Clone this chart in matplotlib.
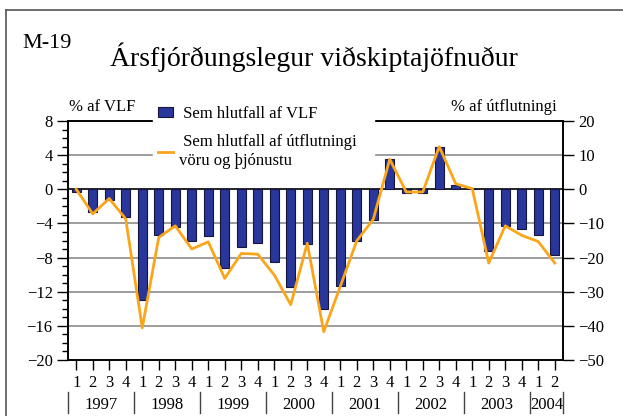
import numpy as np
import matplotlib
matplotlib.use("Agg")
import matplotlib.pyplot as plt
from matplotlib.lines import Line2D
from matplotlib.patches import Patch
import matplotlib.transforms as mtransforms

plt.rcParams['font.family'] = ['Liberation Serif', 'DejaVu Serif']

# Data: quarterly current account balance, 1997Q1 - 2004Q2
years = ["1997", "1998", "1999", "2000", "2001", "2002", "2003", "2004"]
quarters = ["1", "2", "3", "4"] * 7 + ["1", "2"]

pct_gdp = [-0.3, -2.7, -1.2, -3.3,
           -13.0, -5.3, -4.4, -6.0,
           -5.45, -9.2, -6.8, -6.3,
           -8.5, -11.4, -6.4, -14.0,
           -11.3, -6.1, -3.6, 3.6,
           -0.4, -0.4, 5.0, 0.5,
           0.0, -7.2, -4.3, -4.6,
           -5.4, -7.7]

pct_exports = [0.0, -7.2, -2.7, -8.7,
               -40.6, -14.1, -10.7, -17.5,
               -15.4, -26.1, -18.8, -19.0,
               -25.1, -33.8, -15.8, -41.7,
               -28.5, -15.1, -8.8, 8.8,
               -0.8, -0.8, 12.5, 1.6,
               0.2, -21.6, -10.7, -13.5,
               -15.3, -21.6]

bar_color = '#29369A'
line_color = '#FBA51A'
grid_color = '#8C8C8C'

fig = plt.figure(figsize=(6.23, 4.16), dpi=100)
ax = fig.add_axes([68 / 623, 56 / 416, 495 / 623, 239 / 416])
ax2 = ax.twinx()

x = np.arange(len(pct_gdp))

# gridlines on left scale
for v in [4, -4, -8, -12, -16]:
    ax.axhline(v, color=grid_color, lw=1.2, zorder=1)
ax.axhline(0, color='black', lw=1.2, zorder=1)

ax.bar(x, pct_gdp, width=0.55, color=bar_color, edgecolor='#15153f',
       linewidth=0.8, zorder=2)

ax.set_xlim(-0.5, len(pct_gdp) - 0.5)
ax.set_ylim(-20, 8)
ax.set_yticks(np.arange(-20, 9, 4))
ax.set_yticks(np.arange(-20, 9, 1), minor=True)
ax.tick_params(axis='y', which='major', length=8, width=1, labelsize=12, pad=3)
ax.tick_params(axis='y', which='minor', length=4, width=1)
ax.set_xticks(x)
ax.set_xticklabels(quarters)
ax.tick_params(axis='x', length=7, width=1, labelsize=12, pad=4)

ax2.plot(x, pct_exports, color=line_color, lw=2, zorder=3)
ax2.set_ylim(-50, 20)
ax2.set_yticks(np.arange(-50, 21, 10))
ax2.tick_params(axis='y', length=8, width=1, labelsize=12, pad=3)

for a in (ax, ax2):
    for s in a.spines.values():
        s.set_color('black')
        s.set_linewidth(1.2)

# year labels and separators under the quarter labels
trans = mtransforms.blended_transform_factory(ax.transData, ax.transAxes)
for i, yr in enumerate(years):
    start = i * 4
    end = min(start + 4, len(pct_gdp))
    ax.text((start + end - 1) / 2, -0.188, yr, transform=trans,
            ha='center', va='center', fontsize=12)
bounds = [-0.5 + 4 * k for k in range(8)] + [len(pct_gdp) - 0.5]
for b in bounds:
    ax.add_line(Line2D([b, b], [-0.134, -0.222], transform=trans,
                       color='#444444', lw=1, clip_on=False))

# axis unit labels
fig.text(102 / 623, 1 - 107 / 416, '% af VLF', ha='center', va='center',
         fontsize=12)
fig.text(557 / 623, 1 - 107 / 416, '% af útflutningi', ha='right',
         va='center', fontsize=12)

# legend
handles = [Patch(facecolor=bar_color, edgecolor='#15153f', lw=0.8),
           Line2D([], [], color=line_color, lw=2)]
labels = [' Sem hlutfall af VLF', ' Sem hlutfall af útflutningi   \nvöru og þjónustu']
leg = ax2.legend(handles, labels, loc='upper left',
                 bbox_to_anchor=(153 / 623, 1 - 101 / 416),
                 bbox_transform=fig.transFigure, fontsize=12,
                 frameon=True, fancybox=False, borderpad=0.3,
                 handlelength=0.9, handleheight=0.6, handletextpad=0.35,
                 labelspacing=0.75, borderaxespad=0)
leg.get_frame().set_facecolor('white')
leg.get_frame().set_edgecolor('white')
leg.get_frame().set_alpha(1)

# titles
fig.text(22 / 623, 1 - 43 / 416, 'M-19', ha='left', va='center', fontsize=16)
fig.text(314 / 623, 1 - 57 / 416, 'Ársfjórðungslegur viðskiptajöfnuður',
         ha='center', va='center', fontsize=20)

# outer frame
fig.add_artist(Line2D([5.5 / 623, 5.5 / 623], [0, 1 - 10 / 416],
                      transform=fig.transFigure, color='#555555', lw=1.2))
fig.add_artist(Line2D([5.5 / 623, 1], [1 - 10 / 416, 1 - 10 / 416],
                      transform=fig.transFigure, color='#555555', lw=1.2))

fig.savefig('out.png', dpi=100)
